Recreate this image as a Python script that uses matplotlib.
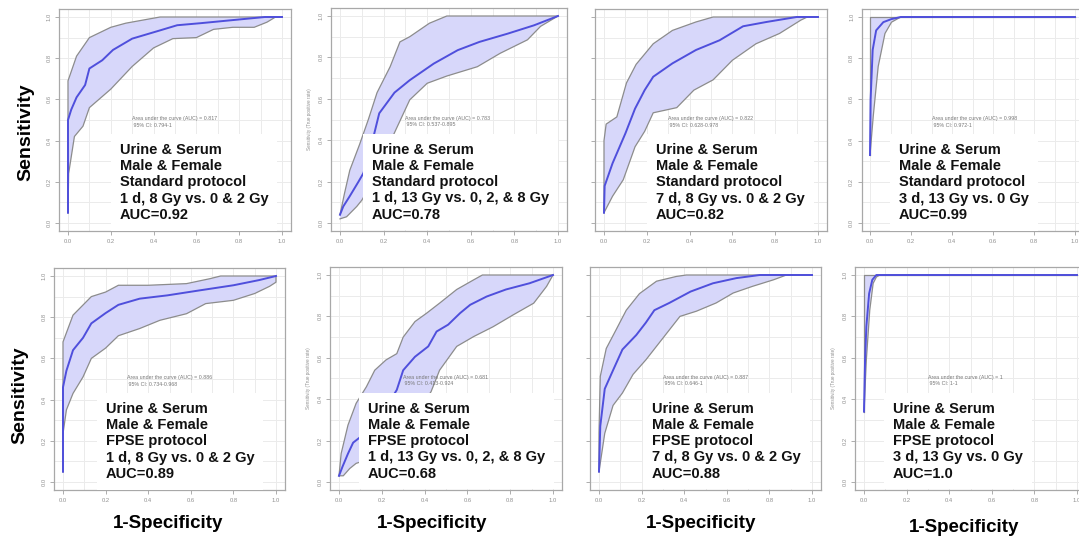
import numpy as np
import matplotlib
matplotlib.use("Agg")
import matplotlib.pyplot as plt

plt.rcParams['font.family'] = ['Liberation Sans', 'DejaVu Sans']

# ---------------- data ----------------
p1_main_x = [0, 0, 0.015, 0.04, 0.08, 0.10, 0.16, 0.21, 0.30, 0.43, 0.51, 0.62, 0.77, 0.92, 1]
p1_main_y = [0.05, 0.50, 0.55, 0.61, 0.67, 0.75, 0.79, 0.84, 0.895, 0.935, 0.96, 0.97, 0.985, 1.0, 1.0]
p1_up_x = [0, 0, 0.04, 0.10, 0.20, 0.27, 0.35, 0.43, 1]
p1_up_y = [0.05, 0.69, 0.81, 0.90, 0.95, 0.97, 0.985, 1.0, 1.0]
p1_lo_x = [0, 0.003, 0.03, 0.07, 0.10, 0.20, 0.30, 0.40, 0.49, 0.60, 0.68, 0.77, 0.87, 0.93, 0.97, 1]
p1_lo_y = [0.05, 0.24, 0.42, 0.47, 0.56, 0.65, 0.76, 0.85, 0.895, 0.90, 0.94, 0.95, 0.95, 0.975, 1.0, 1.0]

p2_main_x = [0, 0.015, 0.045, 0.085, 0.107, 0.125, 0.145, 0.18, 0.25, 0.32, 0.43, 0.54, 0.64, 0.77, 0.89, 1]
p2_main_y = [0.04, 0.08, 0.13, 0.2, 0.24, 0.30, 0.38, 0.53, 0.63, 0.69, 0.77, 0.835, 0.875, 0.915, 0.955, 1]
p2_up_x = [0, 0.02, 0.045, 0.09, 0.13, 0.17, 0.23, 0.275, 0.32, 0.41, 0.49, 1]
p2_up_y = [0.04, 0.14, 0.255, 0.38, 0.5, 0.63, 0.755, 0.875, 0.9, 0.965, 1.0, 1.0]
p2_lo_x = [0, 0.03, 0.077, 0.1, 0.15, 0.2, 0.245, 0.32, 0.4, 0.49, 0.63, 0.735, 0.86, 0.92, 1]
p2_lo_y = [0.02, 0.03, 0.08, 0.11, 0.2, 0.32, 0.425, 0.595, 0.675, 0.71, 0.755, 0.82, 0.885, 0.95, 1]

p3_main_x = [0, 0.003, 0.04, 0.1, 0.145, 0.19, 0.23, 0.32, 0.43, 0.54, 0.65, 0.76, 0.9, 1]
p3_main_y = [0.05, 0.18, 0.29, 0.435, 0.555, 0.645, 0.71, 0.775, 0.84, 0.887, 0.955, 0.976, 1, 1]
p3_up_x = [0, 0, 0.01, 0.06, 0.105, 0.15, 0.23, 0.32, 0.43, 0.51, 1]
p3_up_y = [0.05, 0.4, 0.48, 0.515, 0.68, 0.77, 0.87, 0.935, 0.976, 1, 1]
p3_lo_x = [0, 0.04, 0.09, 0.145, 0.19, 0.23, 0.34, 0.42, 0.51, 0.6, 0.71, 0.82, 0.92, 0.95, 1]
p3_lo_y = [0.05, 0.13, 0.21, 0.37, 0.445, 0.535, 0.56, 0.645, 0.695, 0.79, 0.87, 0.92, 0.985, 1, 1]

p4_main_x = [0, 0.003, 0.013, 0.03, 0.065, 0.105, 0.15, 1]
p4_main_y = [0.33, 0.6, 0.84, 0.935, 0.975, 0.99, 1, 1]
p4_up_x = [0, 0, 1]
p4_up_y = [0.33, 1, 1]
p4_lo_x = [0, 0.016, 0.04, 0.073, 0.105, 0.15, 1]
p4_lo_y = [0.33, 0.52, 0.76, 0.92, 0.975, 1, 1]

p5_main_x = [0, 0, 0.016, 0.047, 0.094, 0.133, 0.2, 0.26, 0.36, 0.49, 0.64, 0.8, 0.92, 1]
p5_main_y = [0.05, 0.46, 0.54, 0.64, 0.70, 0.77, 0.82, 0.86, 0.89, 0.906, 0.93, 0.955, 0.98, 1]
p5_up_x = [0, 0, 0.047, 0.133, 0.2, 0.26, 0.4, 0.58, 0.69, 0.74, 1]
p5_up_y = [0.05, 0.68, 0.81, 0.9, 0.922, 0.955, 0.955, 0.963, 0.987, 1, 1]
p5_lo_x = [0, 0, 0.016, 0.047, 0.094, 0.133, 0.2, 0.26, 0.36, 0.455, 0.58, 0.67, 0.8, 0.9, 0.97, 1, 1]
p5_lo_y = [0.05, 0.235, 0.35, 0.43, 0.51, 0.6, 0.65, 0.71, 0.745, 0.785, 0.817, 0.866, 0.882, 0.915, 0.95, 0.97, 1]

p6_main_x = [0, 0.016, 0.042, 0.066, 0.097, 0.15, 0.22, 0.27, 0.3, 0.355, 0.417, 0.456, 0.51, 0.566, 0.613, 0.69, 0.78, 0.89, 1]
p6_main_y = [0.03, 0.073, 0.137, 0.19, 0.215, 0.28, 0.36, 0.445, 0.54, 0.605, 0.655, 0.727, 0.76, 0.816, 0.856, 0.896, 0.93, 0.96, 1]
p6_up_x = [0, 0.01, 0.042, 0.08, 0.128, 0.167, 0.22, 0.27, 0.3, 0.355, 0.41, 0.47, 0.55, 0.63, 0.67, 1]
p6_up_y = [0.03, 0.137, 0.275, 0.38, 0.46, 0.54, 0.59, 0.62, 0.7, 0.775, 0.816, 0.864, 0.93, 0.977, 1, 1]
p6_lo_x = [0, 0.02, 0.05, 0.08, 0.11, 0.2, 0.3, 0.38, 0.43, 0.47, 0.55, 0.63, 0.72, 0.815, 0.91, 0.97, 1]
p6_lo_y = [0.03, 0.03, 0.065, 0.09, 0.1, 0.17, 0.27, 0.36, 0.436, 0.54, 0.655, 0.703, 0.75, 0.808, 0.864, 0.945, 1]

p7_main_x = [0, 0.006, 0.027, 0.066, 0.11, 0.175, 0.22, 0.26, 0.33, 0.43, 0.535, 0.645, 0.755, 1]
p7_main_y = [0.05, 0.27, 0.45, 0.54, 0.64, 0.71, 0.77, 0.83, 0.865, 0.92, 0.96, 0.985, 1, 1]
p7_up_x = [0, 0, 0.006, 0.034, 0.08, 0.128, 0.19, 0.27, 0.363, 0.41, 1]
p7_up_y = [0.05, 0.235, 0.51, 0.645, 0.735, 0.83, 0.91, 0.97, 0.993, 1, 1]
p7_lo_x = [0, 0.027, 0.066, 0.11, 0.16, 0.22, 0.3, 0.38, 0.457, 0.55, 0.63, 0.72, 0.82, 0.88, 1]
p7_lo_y = [0.05, 0.235, 0.37, 0.43, 0.52, 0.59, 0.695, 0.8, 0.825, 0.865, 0.913, 0.945, 0.977, 1, 1]

p8_main_x = [0, 0.005, 0.011, 0.024, 0.039, 0.058, 1]
p8_main_y = [0.34, 0.59, 0.75, 0.91, 0.977, 1, 1]
p8_up_x = [0, 0, 1]
p8_up_y = [0.34, 1, 1]
p8_lo_x = [0, 0.011, 0.027, 0.043, 0.058, 0.074, 1]
p8_lo_y = [0.34, 0.59, 0.83, 0.96, 0.99, 1, 1]

tissue = "Urine & Serum"
sex = "Male & Female"
protocols = ["Standard protocol"] * 4 + ["FPSE protocol"] * 4
comparisons = ["1 d, 8 Gy vs. 0 & 2 Gy", "1 d, 13 Gy vs. 0, 2, & 8 Gy",
               "7 d, 8 Gy vs. 0 & 2 Gy", "3 d, 13 Gy vs. 0 Gy"] * 2
auc_labels = ["AUC=0.92", "AUC=0.78", "AUC=0.82", "AUC=0.99",
              "AUC=0.89", "AUC=0.68", "AUC=0.88", "AUC=1.0"]
roc_auc = ["0.817", "0.783", "0.822", "0.998", "0.886", "0.681", "0.887", "1"]
roc_ci = ["0.794-1", "0.537-0.895", "0.628-0.978", "0.972-1",
          "0.734-0.968", "0.413-0.924", "0.646-1", "1-1"]
ticks = [0.0, 0.2, 0.4, 0.6, 0.8, 1.0]
tick_labels = ["0.0", "0.2", "0.4", "0.6", "0.8", "1.0"]

curves = [
    (p1_main_x, p1_main_y, p1_up_x, p1_up_y, p1_lo_x, p1_lo_y),
    (p2_main_x, p2_main_y, p2_up_x, p2_up_y, p2_lo_x, p2_lo_y),
    (p3_main_x, p3_main_y, p3_up_x, p3_up_y, p3_lo_x, p3_lo_y),
    (p4_main_x, p4_main_y, p4_up_x, p4_up_y, p4_lo_x, p4_lo_y),
    (p5_main_x, p5_main_y, p5_up_x, p5_up_y, p5_lo_x, p5_lo_y),
    (p6_main_x, p6_main_y, p6_up_x, p6_up_y, p6_lo_x, p6_lo_y),
    (p7_main_x, p7_main_y, p7_up_x, p7_up_y, p7_lo_x, p7_lo_y),
    (p8_main_x, p8_main_y, p8_up_x, p8_up_y, p8_lo_x, p8_lo_y),
]

# ---------------- layout (pixel positions of data 0 and 1) ----------------
W, H = 1079, 539
panel_px = [  # x0, x1, y1(top), y0(bottom)
    (68, 282, 17, 223), (340, 558, 16, 223), (604, 818, 17, 223), (870, 1075, 17, 223),
    (63, 276, 276, 482), (339, 553, 275, 482), (599, 812, 275, 482), (864, 1077, 275, 482),
]
text_x = [0.243, 0.147, 0.243, 0.141, 0.202, 0.136, 0.249, 0.136]
show_ylab_ticks = [True, True, False, True, True, True, False, True]
small_ylabel = [False, True, False, False, False, True, False, True]

fig = plt.figure(figsize=(W / 100, H / 100), dpi=100)
fig.patch.set_facecolor("white")

BLUE = "#4f4fdc"
FILL = "#d7d7fa"
EDGE = "#8c8c8c"

for i, (x0, x1, y1, y0) in enumerate(panel_px):
    ux = x1 - x0
    uy = y0 - y1
    left = x0 - 0.04 * ux
    bottom = y0 + 0.04 * uy
    ax = fig.add_axes([left / W, 1 - bottom / H, 1.08 * ux / W, 1.08 * uy / H])
    ax.set_xlim(-0.04, 1.04)
    ax.set_ylim(-0.04, 1.04)
    ax.set_xticks(np.arange(0, 1.01, 0.1), minor=True)
    ax.set_yticks(np.arange(0, 1.01, 0.1), minor=True)
    ax.set_xticks(ticks)
    ax.set_yticks(ticks)
    ax.grid(True, which="both", color="#ebebeb", linewidth=0.7, zorder=0)
    ax.set_axisbelow(True)
    ax.tick_params(which="minor", length=0)
    ax.tick_params(which="major", length=3, width=0.6, color="#a0a0a0",
                   labelsize=4.2, labelcolor="#909090", pad=2.5)
    ax.set_xticklabels(tick_labels)
    if show_ylab_ticks[i]:
        ax.set_yticklabels(tick_labels, rotation=90, va="center")
    else:
        ax.set_yticklabels([])
    for s in ax.spines.values():
        s.set_color("#a8a8a8")
        s.set_linewidth(0.9)

    mx, my, upx, upy, lox, loy = curves[i]
    ax.fill(np.r_[upx, lox[::-1]], np.r_[upy, loy[::-1]], color=FILL, zorder=1, lw=0)
    ax.plot(upx, upy, color=EDGE, lw=0.9, zorder=2)
    ax.plot(lox, loy, color=EDGE, lw=0.9, zorder=2)
    ax.plot(mx, my, color=BLUE, lw=1.4, zorder=3)

    if small_ylabel[i]:
        ax.set_ylabel("Sensitivity (True positive rate)", fontsize=3.3, color="#909090", labelpad=5)

    ax.text(0.30, 0.49, "Area under the curve (AUC) = " + roc_auc[i] + "\n 95% CI: " + roc_ci[i],
            fontsize=3.8, color="#777777", ha="left", va="center", zorder=4, linespacing=1.3)

    label = "\n".join([tissue, sex, protocols[i], comparisons[i], auc_labels[i]])
    ax.text(text_x[i], 0.197, label, fontsize=10.5, fontweight="bold", color="#111111",
            ha="left", va="center", linespacing=1.2, zorder=5,
            bbox=dict(boxstyle="square,pad=0.6", facecolor="white", edgecolor="none"))

fig.text(26 / W, 1 - 132 / H, "Sensitivity", rotation=90, fontsize=14, fontweight="bold",
         ha="center", va="center")
fig.text(20 / W, 1 - 395 / H, "Sensitivity", rotation=90, fontsize=14, fontweight="bold",
         ha="center", va="center")
for cx, cy in [(168, 523), (432, 523), (701, 523), (964, 527)]:
    fig.text(cx / W, 1 - cy / H, "1-Specificity", fontsize=13.5, fontweight="bold",
             ha="center", va="center")

fig.savefig("out.png", dpi=100)
